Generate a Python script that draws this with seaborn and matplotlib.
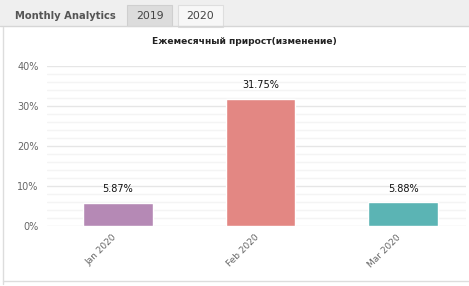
import matplotlib
matplotlib.use("Agg")
import matplotlib.pyplot as plt
import seaborn as sns
import pandas as pd
from matplotlib.patches import Rectangle
from matplotlib.lines import Line2D
from matplotlib.ticker import MultipleLocator, FuncFormatter

months = ["Jan 2020", "Feb 2020", "Mar 2020"]
growth = [5.87, 31.75, 5.88]
bar_colors = ["#b589b5", "#e38783", "#5bb4b4"]
tabs = ["2019", "2020"]
title = "Ежемесячный прирост(изменение)"

W, H = 469, 286
sns.set_style("white")
plt.rcParams['font.family'] = ['DejaVu Sans']

fig = plt.figure(figsize=(W / 100, H / 100), dpi=100)


def fx(x):
    return x / W


def fy(y):
    return 1 - y / H


def rect(x0, y0, x1, y1, color, edge=None):
    fig.add_artist(Rectangle((fx(x0), fy(y1)), fx(x1) - fx(x0), fy(y0) - fy(y1),
                             transform=fig.transFigure, facecolor=color,
                             edgecolor=edge if edge else "none", lw=0.8))


def line(x0, y0, x1, y1, color="#d8d8d8", lw=1):
    fig.add_artist(Line2D([fx(x0), fx(x1)], [fy(y0), fy(y1)],
                          transform=fig.transFigure, color=color, lw=lw))


# tab bar
rect(0, 0, W, 26, "#efefef")
line(0, 26, W, 26, "#d6d6d6")
rect(127, 5, 172, 26, "#dcdcdc", "#cfcfcf")
rect(178, 5, 223, 27, "#f7f7f7", "#dedede")
fig.text(fx(15), fy(16), "Monthly Analytics", fontsize=7.2, fontweight="bold",
         color="#555555", va="center", ha="left")
for t, cx in zip(tabs, [150, 200]):
    fig.text(fx(cx), fy(16), t, fontsize=7.8, color="#444444", va="center", ha="center")

# panel borders
line(3, 27, 3, 284, "#dddddd")
line(3, 280.5, W, 280.5, "#dddddd")

fig.text(fx(244), fy(42), title, fontsize=6.6, fontweight="bold", color="#222222",
         ha="center", va="center")

ax = fig.add_axes([fx(47), fy(226), fx(466) - fx(47), fy(66) - fy(226)])
df = pd.DataFrame({"month": months, "growth": growth})
sns.barplot(data=df, x="month", y="growth", hue="month", palette=bar_colors,
            width=0.49, legend=False, ax=ax, saturation=1)

ax.set_ylim(0, 40)
ax.set_xlim(-0.498, 2.442)
ax.yaxis.set_major_locator(MultipleLocator(10))
ax.yaxis.set_minor_locator(MultipleLocator(2))
ax.yaxis.set_major_formatter(FuncFormatter(lambda v, p: f"{v:.0f}%"))
ax.grid(axis="y", which="major", color="#e6e6e6", lw=1)
ax.grid(axis="y", which="minor", color="#f4f4f4", lw=1)
ax.set_axisbelow(True)
for s in ax.spines.values():
    s.set_visible(False)
ax.set_xlabel("")
ax.set_ylabel("")
ax.tick_params(axis="both", which="both", length=0)
ax.tick_params(axis="y", labelsize=7, labelcolor="#666666", pad=6)
ax.tick_params(axis="x", labelsize=6.5, labelcolor="#666666", pad=5)
plt.setp(ax.get_xticklabels(), rotation=45, ha="right")

for i, v in enumerate(growth):
    ax.text(i, v + 2.2, f"{v:.2f}%", ha="center", va="bottom", fontsize=7, color="#111111")

fig.savefig("out.png", dpi=100)
